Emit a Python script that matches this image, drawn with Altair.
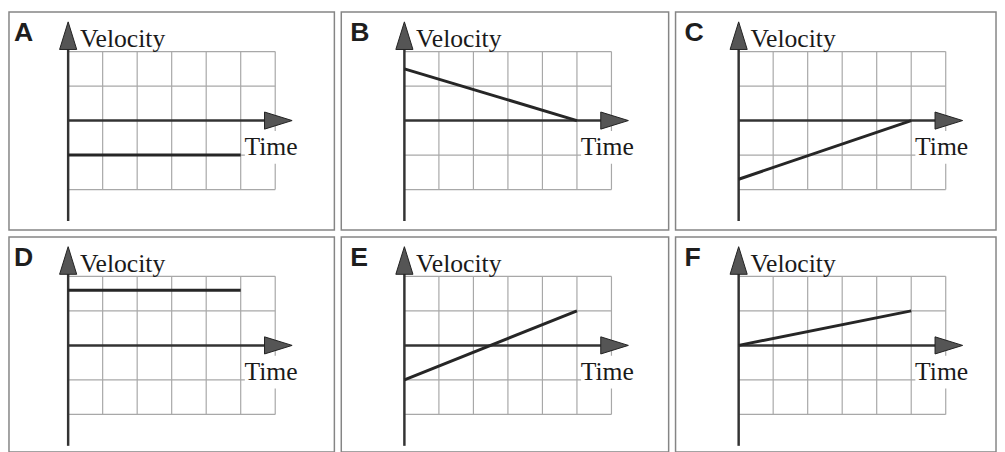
import altair as alt
import pandas as pd

# ---- data (grid units) ----
letters = ["A", "B", "C", "D", "E", "F"]
start_velocity = [-1.0, 1.5, -1.7, 1.6, -1.0, 0.0]
end_velocity = [-1.0, 0.0, 0.0, 1.6, 1.0, 1.0]
start_time = [0, 0, 0, 0, 0, 0]
end_time = [5, 5, 5, 5, 5, 5]
grid_times = [1, 2, 3, 4, 5, 6]
grid_velocities = [-2, -1, 1, 2]
y_label = "Velocity"
x_label = "Time"

# ---- layout constants ----
UNIT = 35                      # pixels per grid cell
col_widths = [330, 332, 325]
col_offsets = [60, 64, 64]     # pixels from panel left to velocity axis
row_heights = [221, 218]
row_offset = 110               # pixels from panel top to time axis

AXIS_COL = "#333333"
GRID_COL = "#a8a8a8"
H_ARROW = "M-1,-0.62L1,0L-1,0.62Z"
V_ARROW = "M-0.62,1L0,-1L0.62,1Z"


def panel(i):
    r, c = divmod(i, 3)
    w, h = col_widths[c], row_heights[r]
    xs = alt.Scale(domain=[-col_offsets[c] / UNIT, (w - col_offsets[c]) / UNIT], nice=False, zero=False)
    ys = alt.Scale(domain=[row_offset / UNIT - h / UNIT, row_offset / UNIT], nice=False, zero=False)

    def X(f):
        return alt.X(f, scale=xs, axis=None)

    def Y(f):
        return alt.Y(f, scale=ys, axis=None)

    tmax = max(grid_times)
    vmin, vmax = min(grid_velocities), max(grid_velocities)

    vgrid = alt.Chart(pd.DataFrame({"t": grid_times, "lo": vmin, "hi": vmax})).mark_rule(
        color=GRID_COL, strokeWidth=1.2).encode(x=X("t:Q"), y=Y("lo:Q"), y2="hi:Q")
    hgrid = alt.Chart(pd.DataFrame({"v": grid_velocities, "lo": 0, "hi": tmax})).mark_rule(
        color=GRID_COL, strokeWidth=1.2).encode(y=Y("v:Q"), x=X("lo:Q"), x2="hi:Q")

    mask = alt.Chart(pd.DataFrame({"x": [5.12], "x2": [6.7], "y": [-1.25], "y2": [-0.3]})).mark_rect(
        color="white").encode(x=X("x:Q"), x2="x2:Q", y=Y("y:Q"), y2="y2:Q")

    axes = alt.Chart(pd.DataFrame({"x": [0, 0], "x2": [5.75, 0], "y": [0, -2.91], "y2": [0, 2.3]})).mark_rule(
        color=AXIS_COL, strokeWidth=2.5).encode(x=X("x:Q"), x2="x2:Q", y=Y("y:Q"), y2="y2:Q")

    harrow = alt.Chart(pd.DataFrame({"x": [6.09], "y": [0]})).mark_point(
        shape=H_ARROW, size=784, filled=True, fill="#555555", stroke="#222222", strokeWidth=1, opacity=1
    ).encode(x=X("x:Q"), y=Y("y:Q"))
    varrow = alt.Chart(pd.DataFrame({"x": [0], "y": [2.46]})).mark_point(
        shape=V_ARROW, size=784, filled=True, fill="#555555", stroke="#222222", strokeWidth=1, opacity=1
    ).encode(x=X("x:Q"), y=Y("y:Q"))

    line = alt.Chart(pd.DataFrame({"t": [start_time[i], end_time[i]],
                                   "v": [start_velocity[i], end_velocity[i]]})).mark_line(
        color="#262626", strokeWidth=3).encode(x=X("t:Q"), y=Y("v:Q"))

    letter = alt.Chart(pd.DataFrame({"x": [-1.57], "y": [2.3], "s": [letters[i]]})).mark_text(
        align="left", baseline="alphabetic", font="Liberation Sans", fontWeight="bold",
        fontSize=27, color="#1e1e1e").encode(x=X("x:Q"), y=Y("y:Q"), text="s:N")
    vel = alt.Chart(pd.DataFrame({"x": [0.34], "y": [2.14], "s": [y_label]})).mark_text(
        align="left", baseline="alphabetic", font="Liberation Serif",
        fontSize=26, color="#1a1a1a").encode(x=X("x:Q"), y=Y("y:Q"), text="s:N")
    tim = alt.Chart(pd.DataFrame({"x": [5.11], "y": [-1.0], "s": [x_label]})).mark_text(
        align="left", baseline="alphabetic", font="Liberation Serif",
        fontSize=26, color="#1a1a1a").encode(x=X("x:Q"), y=Y("y:Q"), text="s:N")

    return alt.layer(vgrid, hgrid, mask, axes, harrow, varrow, line, letter, vel, tim).properties(
        width=w, height=h)


panels = [panel(i) for i in range(6)]
chart = alt.vconcat(
    alt.hconcat(*panels[0:3], spacing=5),
    alt.hconcat(*panels[3:6], spacing=5),
    spacing=5,
).configure_view(stroke="#858585", strokeWidth=1.5).properties(padding=0)

chart.save("out.html", embed_options={"renderer": "svg", "actions": False})
